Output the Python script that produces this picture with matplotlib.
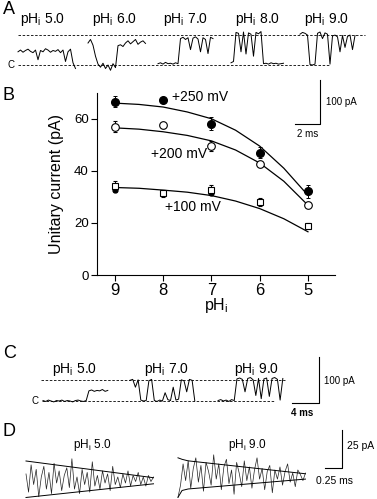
"""Intracellular pH dependence of single-channel current: traces (A, C, D) and I-pH plot (B)."""

import numpy as np
import matplotlib as mpl
import matplotlib.pyplot as plt

mpl.rcParams["font.family"] = ["Liberation Sans", "DejaVu Sans"]
mpl.rcParams["mathtext.default"] = "regular"

W, H = 377, 499

# ---- panel B data (unitary current, pA) ----
PH = [9, 8, 7, 6, 5]
I_250 = [66.6, 67.2, 58.0, 47.0, 32.2]
E_250 = [2.0, 1.0, 2.5, 2.0, 2.5]
I_200 = [57.0, 57.5, 49.5, 42.5, 27.0]
E_200 = [2.0, 1.0, 2.0, 1.0, 1.0]
I_100 = [34.0, 31.3, 32.6, 28.0, 18.9]
E_100 = [2.0, 1.5, 2.0, 1.5, 1.0]
PH_100B = [9, 7, 5]
I_100B = [32.5, 31.4, 19.0]

# fitted titration curves
PH_FIT = [9.0, 8.5, 8.0, 7.5, 7.0, 6.5, 6.0, 5.5, 5.0]
FIT_250 = [66.0, 65.5, 64.5, 62.6, 60.0, 55.6, 49.5, 41.0, 30.6]
FIT_200 = [56.5, 56.0, 55.0, 53.6, 51.5, 48.0, 43.0, 36.0, 26.8]
FIT_100 = [33.6, 33.3, 32.6, 31.8, 30.5, 28.4, 25.5, 21.6, 16.6]

# ---- panel A traces (pA, sampled every 0.2 ms) ----
A_LABELS = ["5.0", "6.0", "7.0", "8.0", "9.0"]
A_TRACES = [
    [30, 34, 29, 33, 36, 31, 28, 34, 12, 33, 30, 37, 34, 29, 33, 31, 35, 28, 34, 8, 30, 36, 5, -8],
    [50, 58, 45, 20, 2, -5, 4, -8, 0, -12, 3, -6, 44, 46, 42, 50, 55, 48, 53, 58, 47, 52, 55, 49],
    [3, 5, 2, 6, 3, 4, 2, 5, 3, 60, 63, 58, 62, 35, 61, 64, 59, 30, 62, 58, 26, 63, 60],
    [5, 8, 74, 72, 30, 75, 25, 73, 70, 20, 74, 71, 76, 3, 4, 2, 5, 3, 4, 2, 3, 4],
    [70, 74, 72, 68, 1, 0, 2, 72, 75, 60, 73, 70, 2, 66, 68, 64, 30, 67, 40, 65, 68, 35, 67],
]
A_OPEN = 68

# ---- panel C traces (pA, sampled every 0.4 ms) ----
C_LABELS = ["5.0", "7.0", "9.0"]
C_TRACES = [
    [1, -1, 2, 0, -2, 1, 0, 2, -1, 1, 0, -2, 1, 2, 0, -1, 1, 22, 24, 21, 23, 22, 25, 21, 23],
    [45, 47, 30, 46, 2, 0, 1, 44, 47, 1, -1, 2, 0, 18, 3, 1, 30, 2, 4, 46, 44, 20, 47, 45, 0],
    [1, 3, 0, 2, -1, 3, 1, 48, 50, 47, 20, 49, 51, 46, 12, 49, 5, 48, 50, 10, 49, 51, 47, 2, 49],
]
C_OPEN = 46

# ---- panel D traces (pA, sampled every 0.0375 ms) ----
D_LABELS = ["5.0", "9.0"]
D_TRACES = [
    [4, -8, 10, -3, 7, -11, 2, 9, -6, 5, -9, 11, -2, 6, -7, 3, 8, -5, 14, -6, 2, -9, 7, -3, 5,
     -8, 12, -4, 3, -6, 6, -2, 4, -7, 9, -3, 2, -5, 4, -2, 6, -4, 3, -1, 5, -3, 2, -4, 3, -1, 2],
    [-14, -6, 8, -3, 10, -8, 5, 12, -4, 7, -10, 9, 3, -6, 14, -2, 8, -9, 6, 11, -5, 4, -12, 9, 2,
     -7, 10, -3, 6, -8, 4, 12, -2, 5, -9, 3, 7, -11, 4, -2, 6, -6, 3, 8, -4, 2, -7, 4, 1, -3, 2],
]
D_ENV_T = [[0, 1.875], [0, 0.06, 0.15, 1.875]]
D_ENV_UP = [[12.5, 1.5], [12.0, 11.0, 10.0, 1.5]]
D_ENV_LO = [[-11.5, -2.5], [-14.0, -9.5, -8.5, -2.0]]


def fx(px):
    return px / W


def fy(py):
    return 1 - py / H


def trace_axes(fig, top, bottom, x0, px_per_ms, y0, px_per_pa):
    """Invisible axes whose data units are ms / pA, mapped to pixel positions."""
    ax = fig.add_axes([0, fy(bottom), 1, (bottom - top) / H])
    ax.set_xlim(-x0 / px_per_ms, (W - x0) / px_per_ms)
    ax.set_ylim((y0 - bottom) / px_per_pa, (y0 - top) / px_per_pa)
    ax.axis("off")
    ax.set_zorder(3)
    return ax


def main():
    fig = plt.figure(figsize=(W / 100, H / 100), dpi=100)

    for lab, py in zip("ABCD", [10, 95, 353, 432]):
        fig.text(fx(3), fy(py), lab, fontsize=13, va="center", ha="left")

    tr = dict(color="black", lw=0.7)
    dash = dict(color="black", lw=0.6, ls=(0, (3, 2)))

    # ---------- A ----------
    axA = trace_axes(fig, 10, 80, 18, 12.5, 65, 0.44)
    starts = [0, 5.6, 11.2, 17.04, 22.56]
    for t0, y in zip(starts, A_TRACES):
        axA.plot(t0 + 0.2 * np.arange(len(y)), y, **tr)
    axA.plot([0, 27.76], [A_OPEN, A_OPEN], **dash)
    axA.plot([0, 24.96], [0, 0], **dash)
    axA.text(-0.3, 0, "C", fontsize=7, ha="right", va="center")
    for cx, lab in zip([43, 115, 186, 258, 327], A_LABELS):
        axA.text((cx - 18) / 12.5, (65 - 20) / 0.44, "pH$_i$ " + lab, fontsize=10,
                 ha="center", va="center")
    # scale bar 2 ms / 100 pA
    axA.plot([22.16, 24.16, 24.16], [-134, -134, -34], color="black", lw=0.8, clip_on=False)
    axA.text(24.6, -84, "100 pA", fontsize=7, va="center", clip_on=False)
    axA.text(23.16, -156, "2 ms", fontsize=7, ha="center", va="center", clip_on=False)

    # ---------- B ----------
    axB = fig.add_axes([fx(97), fy(275), (335 - 97) / W, (275 - 92.7) / H])
    axB.patch.set_alpha(0)
    eb = dict(color="black", capsize=1.5, elinewidth=0.7, capthick=0.7, ls="none")
    axB.plot(PH_FIT, FIT_250, color="black", lw=0.9)
    axB.plot(PH_FIT, FIT_200, color="black", lw=0.9)
    axB.plot(PH_FIT, FIT_100, color="black", lw=0.9)
    axB.errorbar(PH, I_250, yerr=E_250, marker="o", ms=5.5, mfc="black", mec="black", **eb)
    axB.errorbar(PH, I_200, yerr=E_200, marker="o", ms=5.5, mfc="white", mec="black", mew=0.8, **eb)
    axB.errorbar(PH, I_100, yerr=E_100, marker="s", ms=4.5, mfc="white", mec="black", mew=0.8, **eb)
    axB.plot(PH_100B, I_100B, "o", ms=3.5, color="black")
    axB.text(7.82, 68.2, "+250 mV", fontsize=10, va="center")
    axB.text(8.25, 46.4, "+200 mV", fontsize=10, va="center")
    axB.text(7.96, 26.0, "+100 mV", fontsize=10, va="center")
    axB.set_xlim(9.37, 4.44)
    axB.set_ylim(0, 70)
    axB.set_xticks(PH)
    axB.set_yticks([0, 20, 40, 60])
    axB.tick_params(axis="x", labelsize=12, length=4, width=0.8, pad=1.5)
    axB.tick_params(axis="y", labelsize=9.5, length=4, width=0.8, pad=2)
    axB.spines[["top", "right"]].set_visible(False)
    axB.spines[["left", "bottom"]].set_linewidth(0.8)
    axB.set_ylabel("Unitary current (pA)", fontsize=11.5, labelpad=7)
    axB.set_xlabel("pH$_i$", fontsize=11.5, labelpad=-1)

    # ---------- C ----------
    axC = trace_axes(fig, 355, 415, 43, 6.75, 401, 0.46)
    starts = [0, 12.89, 25.93]
    for t0, y in zip(starts, C_TRACES):
        axC.plot(t0 + 0.4 * np.arange(len(y)), y, **tr)
    axC.plot([-0.3, 35.85], [C_OPEN, C_OPEN], **dash)
    axC.plot([-0.15, 34.4], [0, 0], **dash)
    axC.text(-0.6, 0, "C", fontsize=7, ha="right", va="center")
    for cx, lab in zip([75, 167, 257], C_LABELS):
        axC.text((cx - 43) / 6.75, (401 - 370) / 0.46, "pH$_i$ " + lab, fontsize=10,
                 ha="center", va="center")
    axC.plot([36.9, 40.9, 40.9], [-4.3, -4.3, 95.7], color="black", lw=0.8, clip_on=False)
    axC.text(41.6, 43.5, "100 pA", fontsize=7, va="center")
    axC.text(38.4, -26, "4 ms", fontsize=7, ha="center", va="center", fontweight="bold",
             clip_on=False)

    # ---------- D ----------
    axD = trace_axes(fig, 425, 499, 26, 68, 480, 1.52)
    starts = [0, 2.235]
    offsets = [0, 2.6]
    for t0, off, y, et, eu, el in zip(starts, offsets, D_TRACES, D_ENV_T, D_ENV_UP, D_ENV_LO):
        axD.plot(t0 + 0.0375 * np.arange(len(y)), np.array(y) + off, color="#222222", lw=0.5)
        axD.plot(t0 + np.array(et), np.array(eu) + off, color="black", lw=0.7)
        axD.plot(t0 + np.array(et), np.array(el) + off, color="black", lw=0.7)
    for cx, lab in zip([92, 247], D_LABELS):
        axD.text((cx - 26) / 68, (480 - 445) / 1.52, "pH$_i$ " + lab, fontsize=8.5,
                 ha="center", va="center")
    axD.plot([4.397, 4.647, 4.647], [7.9, 7.9, 32.9], color="black", lw=0.8, clip_on=False)
    axD.text(4.72, 22.4, "25 pA", fontsize=7.5, va="center")
    axD.text(4.26, -0.7, "0.25 ms", fontsize=7.5, va="center")

    fig.savefig("out.png", dpi=100)
    plt.close(fig)


if __name__ == "__main__":
    main()
